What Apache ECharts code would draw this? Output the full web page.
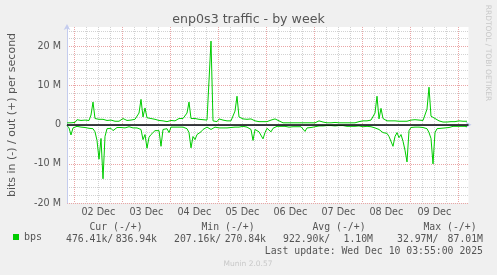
<!DOCTYPE html>
<html><head><meta charset="utf-8">
<script src="https://cdn.jsdelivr.net/npm/echarts@6/dist/echarts.min.js"></script>
<style>html,body{margin:0;padding:0;background:#f0f0f0}#c{width:497px;height:275px}</style>
</head><body><div id="c"></div>
<script>
// time: hours after 01 Dec 00:00
const sampleStartHour = 20.35;
const sampleStepHours = 1;
const axisStartHour = 20.35;
const axisEndHour = 221.1;
const MEGA = 1e6;

// out (+) traffic, Mbit/s, hourly
const outMbps = [
 0.5,0.5,0.5,0.5,0.6,1.3,1.0,1.1,1.0,1.2,
 1.0,1.1,2.5,5.8,1.6,1.3,1.4,1.2,1.4,1.3,
 1.1,1.4,1.2,1.0,0.9,0.8,0.9,1.0,1.6,1.3,
 1.1,1.0,1.2,1.3,1.4,1.2,3.0,6.5,2.0,4.3,
 1.8,1.5,1.6,1.5,1.4,1.3,1.1,0.9,1.0,0.8,
 0.8,1.0,1.1,1.2,1.0,1.4,1.6,1.5,1.6,1.8,
 3.0,5.8,1.6,1.3,1.6,1.2,1.4,1.5,1.3,1.1,
 1.2,1.0,21.4,1.0,0.9,0.8,1.5,1.6,1.2,1.1,
 1.0,1.2,1.0,1.4,3.5,7.3,2.0,1.6,1.5,1.8,
 1.4,1.6,1.5,1.3,1.0,0.9,0.8,0.9,0.8,0.9,
 0.8,1.0,1.2,1.4,1.5,1.2,1.0,0.6,0.5,0.5,
 0.5,0.5,0.5,0.5,0.5,0.5,0.5,0.5,0.5,0.5,
 0.5,0.5,0.5,0.5,0.5,0.8,1.0,0.9,0.7,0.5,
 0.5,0.5,0.5,0.5,0.6,0.5,0.5,0.5,0.5,0.5,
 0.5,0.6,0.5,0.5,0.5,0.5,0.8,1.3,1.0,1.2,
 1.0,0.9,1.2,1.3,3.0,7.3,1.5,4.2,1.6,1.2,
 1.0,1.2,1.0,0.9,1.0,0.8,0.9,1.0,0.9,0.8,
 0.9,1.0,1.2,1.1,1.3,1.0,1.2,1.3,1.1,1.2,
 4.0,9.6,2.2,1.8,1.6,1.2,1.0,0.8,0.7,0.8,
 0.7,0.8,0.8,1.0,0.8,0.9,1.0,1.1,0.9,1.0,
 0.9
];
// in (-) traffic, Mbit/s, hourly (drawn below zero)
const inMbps = [
 0.2,0.8,2.6,0.8,0.5,0.4,0.5,0.6,0.5,0.7,
 0.8,0.9,0.8,1.0,1.8,4.0,8.8,3.5,13.8,3.0,
 1.0,0.8,0.9,1.5,1.0,0.7,0.6,0.7,0.6,0.8,
 0.6,0.5,0.7,0.8,0.7,0.8,0.9,1.2,3.8,2.5,
 6.0,3.2,2.5,2.0,1.5,1.4,1.5,5.5,1.2,0.9,
 1.0,2.0,0.6,0.7,0.6,0.5,0.6,0.7,0.6,0.8,
 1.0,2.0,5.9,3.0,3.8,2.5,2.0,1.8,1.2,1.0,
 0.6,0.5,1.2,0.7,0.6,1.0,0.8,0.7,0.8,0.7,
 0.8,0.9,0.7,0.8,0.6,0.5,0.6,0.5,0.4,0.5,
 0.6,0.8,1.2,4.0,1.2,1.5,1.8,1.5,3.6,2.0,
 0.9,1.0,1.8,0.9,0.6,0.4,0.5,0.4,0.5,0.4,
 0.5,0.6,0.8,0.5,0.4,0.5,0.6,0.5,0.8,1.7,
 0.8,1.2,0.7,0.6,0.5,0.4,0.3,0.2,0.3,0.2,
 0.2,0.3,0.2,0.2,0.3,0.2,0.2,0.3,0.2,0.3,
 0.4,0.5,0.4,0.3,0.4,0.3,0.3,0.4,0.5,0.6,
 0.4,0.3,0.5,0.6,0.8,0.9,1.2,1.6,2.0,2.5,
 2.2,3.0,2.5,5.5,3.0,2.0,3.3,2.5,4.2,6.5,
 9.5,1.5,0.7,0.6,0.6,0.7,0.6,0.6,0.7,0.8,
 1.0,2.0,3.5,10.0,2.0,1.0,0.8,0.9,1.2,0.8,
 0.6,0.7,0.4,0.4,0.3,0.4,0.5,0.4,0.3,0.4,
 0.5
];

const dayLabels = ['02 Dec','03 Dec','04 Dec','05 Dec','06 Dec','07 Dec','08 Dec','09 Dec'];
const dayLabelHours = [36,60,84,108,132,156,180,204];
const gridFirstHour = 24, gridLastHour = 216, gridStepHours = 6;
const yTickValues = [-20e6,-10e6,0,10e6,20e6];
const yTickLabels = ['-20 M','-10 M','0','10 M','20 M'];

const statHeaders = ['Cur (-/+)','Min (-/+)','Avg (-/+)','Max (-/+)'];
const statIn  = ['476.41k','207.16k','922.90k','32.97M'];
const statOut = ['836.94k','270.84k','1.10M','87.01M'];
const lastUpdate = 'Last update: Wed Dec 10 03:55:00 2025';

const gridHours = [];
for (let h = gridFirstHour; h <= gridLastHour; h += gridStepHours) gridHours.push(h);

const outData = outMbps.map((v,i)=>[sampleStartHour + i*sampleStepHours, v*MEGA]);
const inData  = inMbps.map((v,i)=>[sampleStartHour + i*sampleStepHours, -v*MEGA]);

const RED = '#eaa6a6', GRAY = '#d2d2d2', AXIS = '#c4ccee', TXT = '#555';
const MONO = '"DejaVu Sans Mono", monospace';
const SANS = '"DejaVu Sans", sans-serif';

const statHeaderX = [116, 228, 339, 450];
const statInX = [66, 174, 283, 397];
const statOutX = [157, 266, 373, 483];

const graphics = [
  {type:'text', x:248.5, y:20, style:{text:'enp0s3 traffic - by week', fill:TXT, font:'12.6px '+SANS, align:'center', verticalAlign:'middle'}},
  {type:'text', x:12, y:115, rotation:Math.PI/2, style:{text:'bits in (-) / out (+) per second', fill:TXT, font:'11px '+SANS, align:'center', verticalAlign:'middle'}},
  {type:'text', x:488, y:53, rotation:-Math.PI/2, style:{text:'RRDTOOL / TOBI OETIKER', fill:'#c8c8c8', font:'7.5px '+SANS, align:'center', verticalAlign:'middle'}},
  {type:'text', x:248, y:264.5, style:{text:'Munin 2.0.57', fill:'#c8c8c8', font:'7.5px '+SANS, align:'center', verticalAlign:'middle'}},
  {type:'text', x:483, y:251, style:{text:lastUpdate, fill:TXT, font:'9.8px '+MONO, align:'right', verticalAlign:'middle'}}
];
statHeaders.forEach((t,k)=>{
  graphics.push({type:'text', x:statHeaderX[k], y:227, style:{text:t, fill:TXT, font:'9.8px '+MONO, align:'center', verticalAlign:'middle'}});
  graphics.push({type:'text', x:statInX[k], y:239.5, style:{text:statIn[k]+'/', fill:TXT, font:'9.8px '+MONO, align:'left', verticalAlign:'middle'}});
  graphics.push({type:'text', x:statOutX[k], y:239.5, style:{text:statOut[k], fill:TXT, font:'9.8px '+MONO, align:'right', verticalAlign:'middle'}});
});

const chart = echarts.init(document.getElementById('c'), null, {renderer:'canvas'});
chart.setOption({
  animation:false,
  backgroundColor:'#f0f0f0',
  grid:{left:67, right:28.5, top:27, bottom:72, show:true, backgroundColor:'#ffffff', borderWidth:0, containLabel:false},
  legend:{data:['bps'], left:13, top:232, icon:'rect', itemWidth:6, itemHeight:6, padding:0,
    textStyle:{fontFamily:MONO, fontSize:10, color:TXT}},
  xAxis:{type:'value', min:axisStartHour, max:axisEndHour,
    axisLine:{show:true, lineStyle:{color:AXIS, width:1}, symbol:['none','arrow'], symbolSize:[5,6], symbolOffset:[0,3]},
    axisTick:{show:false, customValues:gridHours},
    splitLine:{show:true, lineStyle:{color:[RED,GRAY,GRAY,GRAY], width:1, type:[1,1]}},
    axisLabel:{customValues:dayLabelHours, margin:4, color:TXT, fontFamily:SANS, fontSize:9.6,
      formatter:v=>dayLabels[dayLabelHours.indexOf(Math.round(v))] || ''}
  },
  yAxis:{type:'value', min:-20e6, max:25e6, interval:2e6,
    axisLine:{show:true, lineStyle:{color:AXIS, width:1}, symbol:['none','arrow'], symbolSize:[5,6], symbolOffset:[0,3]},
    axisTick:{show:false},
    splitLine:{show:true, showMaxLine:false, lineStyle:{color:[RED,GRAY,GRAY,GRAY,GRAY], width:1, type:[1,1]}},
    axisLabel:{customValues:yTickValues, margin:6, color:TXT, fontFamily:SANS, fontSize:9.6,
      formatter:v=>{const k=yTickValues.indexOf(Math.round(v)); return k>=0?yTickLabels[k]:'';}}
  },
  graphic:graphics,
  series:[
    {name:'bps', type:'line', data:inData, showSymbol:false, symbol:'none', color:'#00cc00',
     lineStyle:{width:1, color:'#00cc00'}},
    {name:'bps', type:'line', data:outData, showSymbol:false, symbol:'none', color:'#00cc00',
     lineStyle:{width:1, color:'#00cc00'},
     markLine:{silent:true, symbol:'none', label:{show:false}, lineStyle:{color:'#000', width:1.5, type:'solid'}, data:[{yAxis:0}]}}
  ]
});
</script></body></html>
